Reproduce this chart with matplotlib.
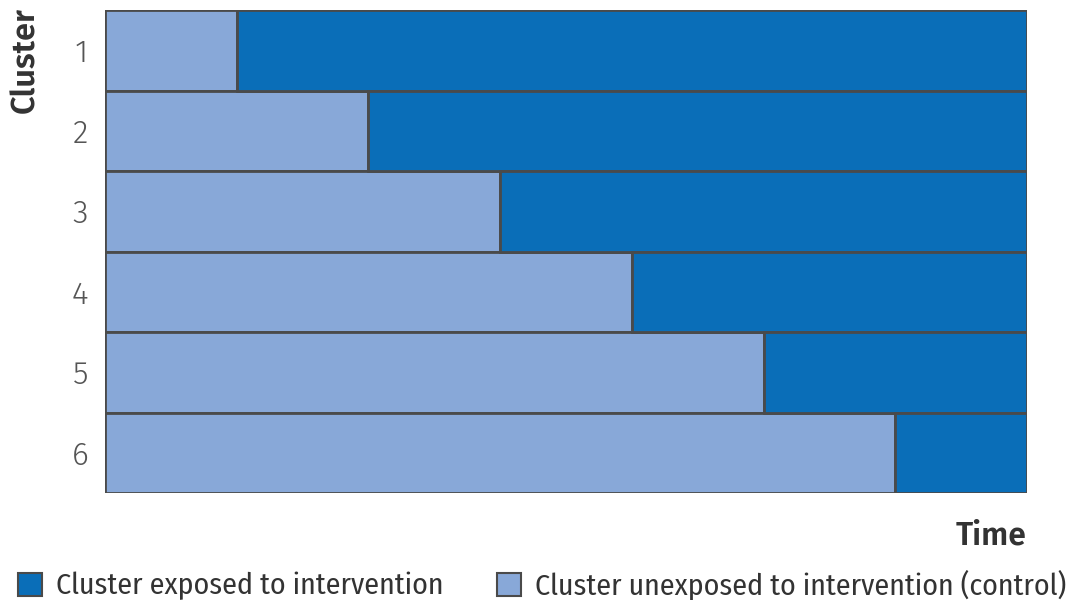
import matplotlib
matplotlib.use("Agg")
import matplotlib.pyplot as plt
from matplotlib.patches import Patch

clusters = ["1", "2", "3", "4", "5", "6"]
total_periods = 7
unexposed_periods = [1, 2, 3, 4, 5, 6]
exposed_periods = [total_periods - u for u in unexposed_periods]

col_exposed = "#0A6EB8"
col_unexposed = "#88A8D8"
edge = "#4a4a4a"
txt = "#333333"

cond = ["Fira Sans Condensed", "DejaVu Sans"]
norm = ["Fira Sans", "DejaVu Sans"]

fig = plt.figure(figsize=(10.67, 6), dpi=100)
ax = fig.add_axes([105/1067, 1-493/600, 922/1067, 483/600])

y = list(range(len(clusters)))
ax.barh(y, unexposed_periods, height=1.0, color=col_unexposed, edgecolor=edge, linewidth=2)
ax.barh(y, exposed_periods, left=unexposed_periods, height=1.0, color=col_exposed, edgecolor=edge, linewidth=2)

ax.set_xlim(0, total_periods)
ax.set_ylim(len(clusters) - 0.5, -0.5)
ax.set_yticks(y)
ax.set_yticklabels(clusters, fontsize=23, color="#555555", family=norm, fontweight=300)
ax.tick_params(axis="y", length=0, pad=12)
ax.set_xticks([])
for s in ax.spines.values():
    s.set_visible(False)

fig.text(25/1067, 1-60/600, "Cluster", rotation=90, ha="center", va="center",
         fontsize=23.5, fontweight=600, color=txt, family=norm)
fig.text(1026/1067, 1-536/600, "Time", ha="right", va="center",
         fontsize=23, fontweight=600, color=txt, family=norm)

handles = [Patch(facecolor=col_exposed, edgecolor=edge, linewidth=1.5, label="Cluster exposed to intervention"),
           Patch(facecolor=col_unexposed, edgecolor=edge, linewidth=1.5, label="Cluster unexposed to intervention (control)")]
fig.legend(handles=handles, loc="center left", bbox_to_anchor=(18/1067, 1-585/600), ncol=2,
           frameon=False, prop={"family": cond, "size": 21.5}, labelcolor=txt,
           handlelength=0.8, handleheight=0.8, handletextpad=0.47, columnspacing=1.8, borderaxespad=0,
           borderpad=0)

fig.savefig("out.png", dpi=100)
